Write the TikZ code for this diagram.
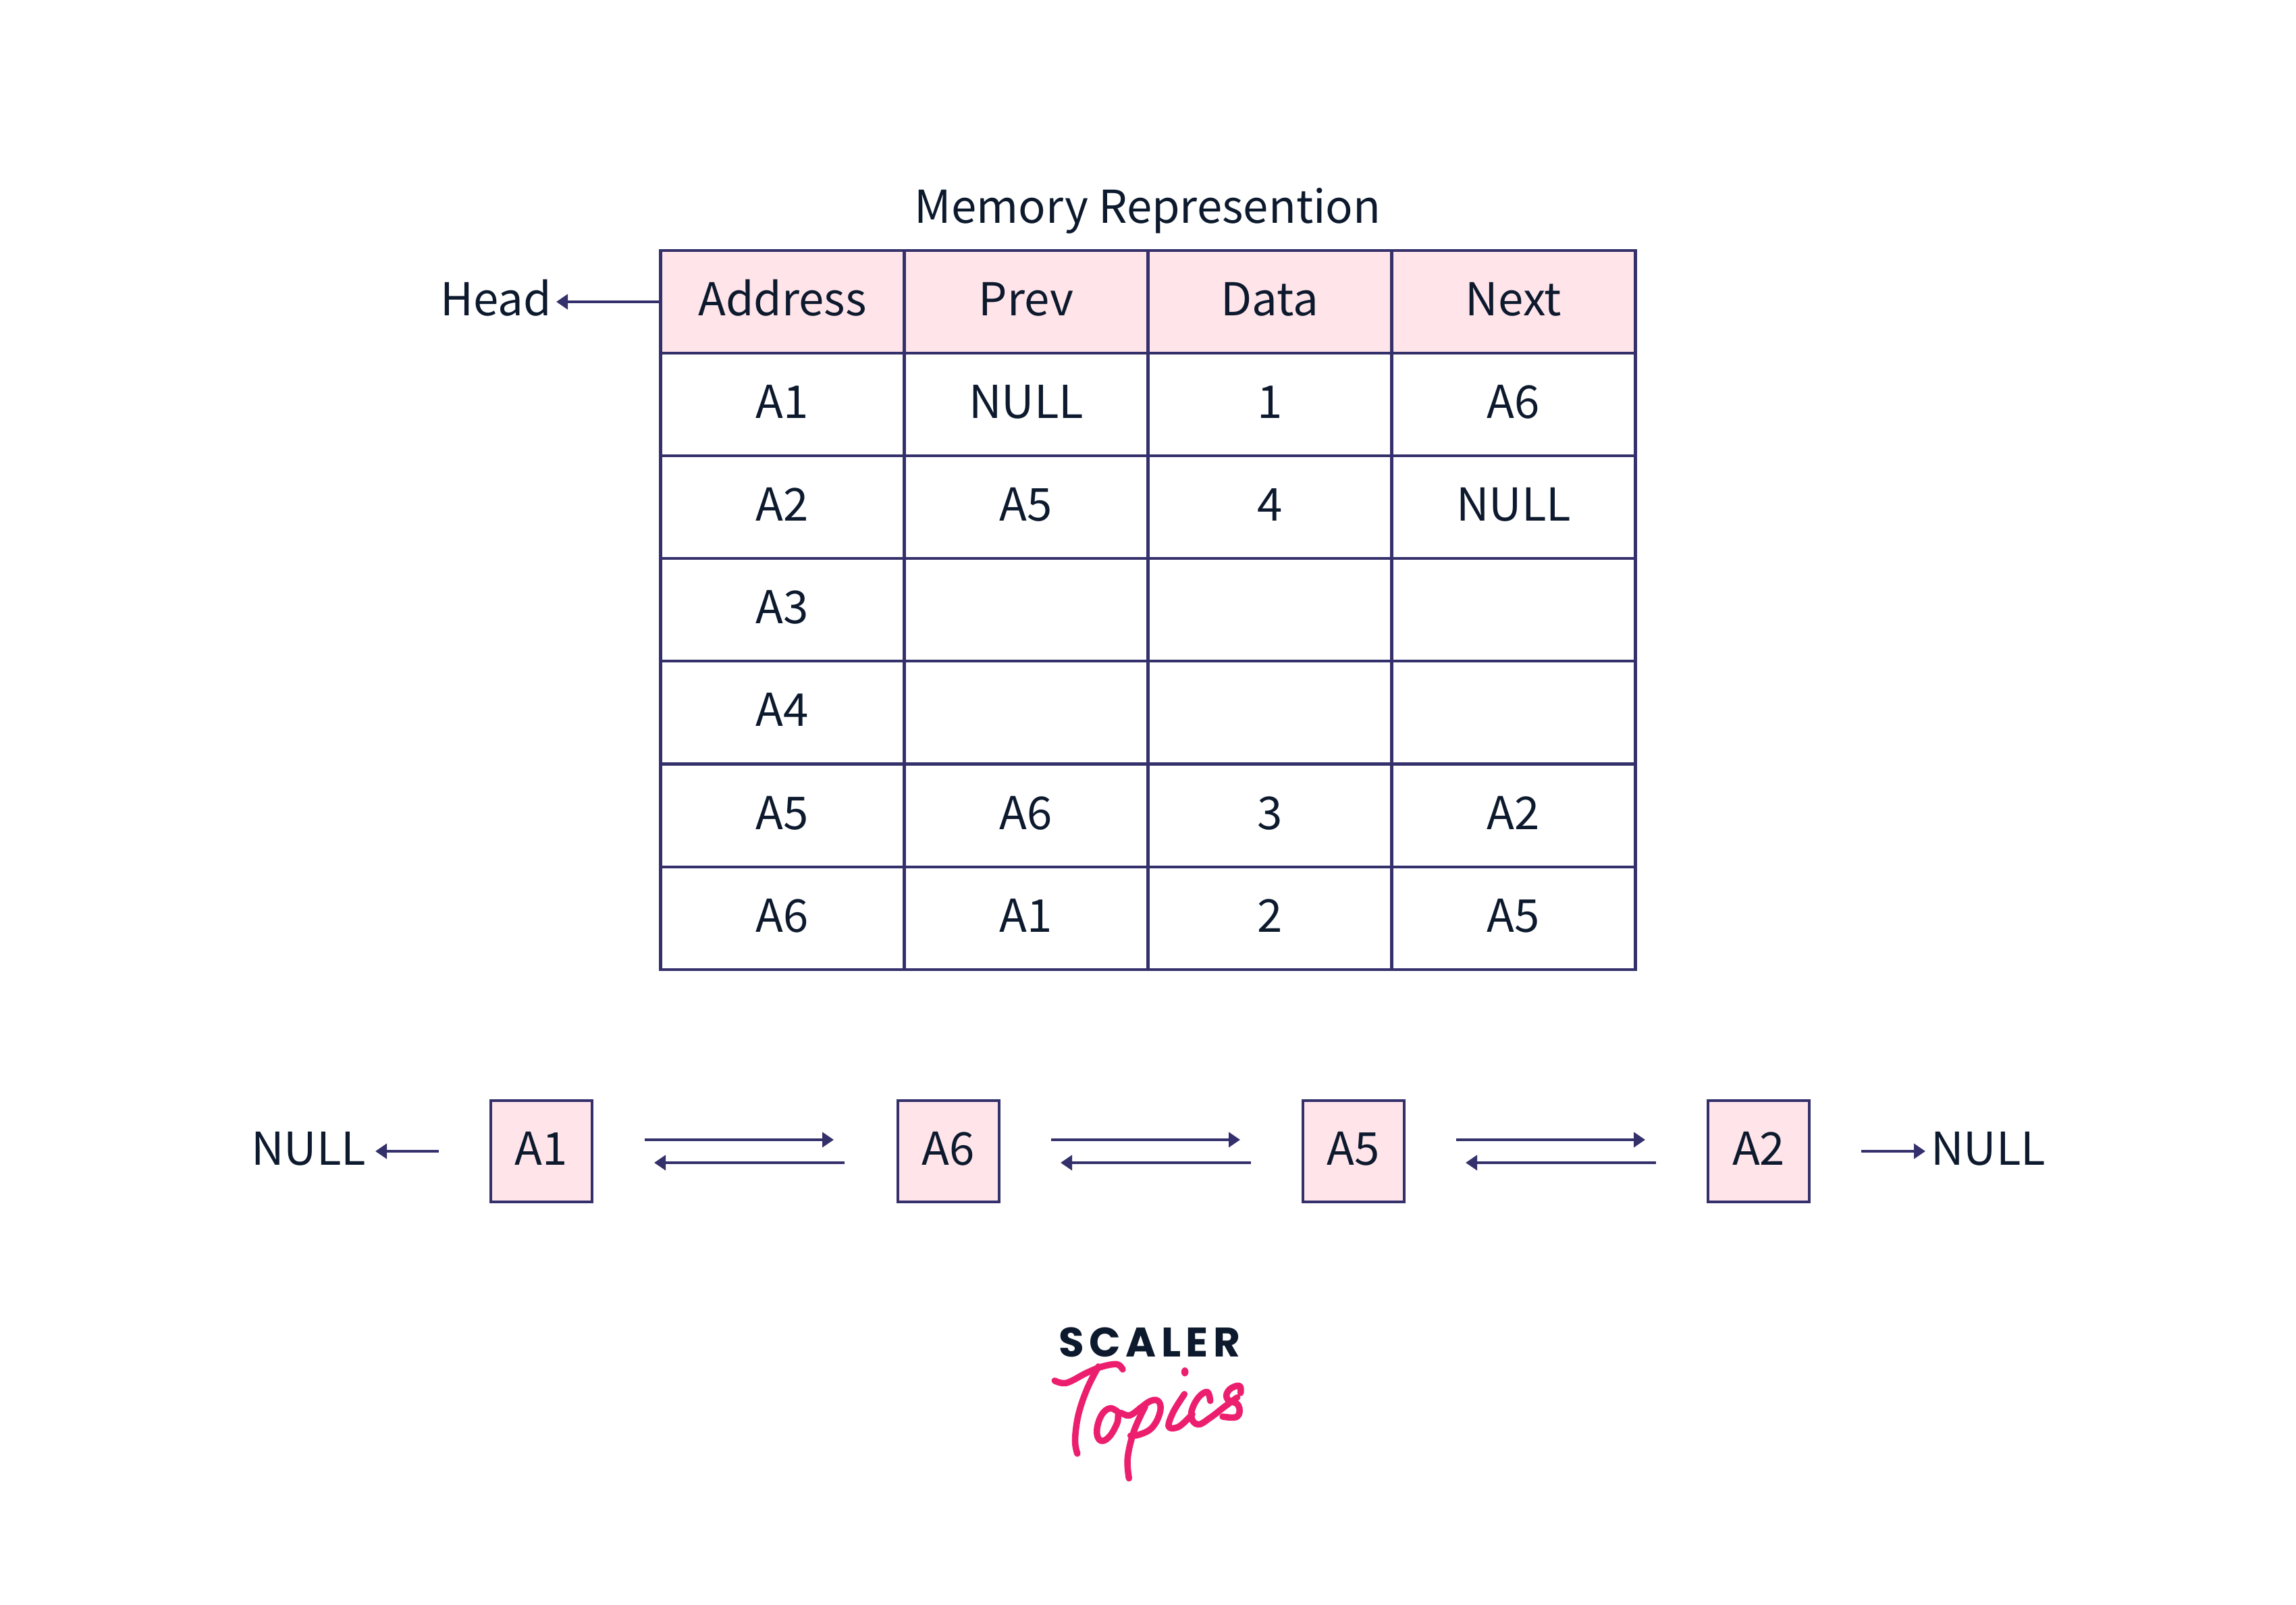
\documentclass[tikz,border=0pt]{standalone}
\usepackage{fontspec}
\usepackage{tikz}
\usetikzlibrary{arrows.meta}
\setmainfont{Noto Sans CJK JP}
\newfontfamily\logofont[LetterSpace=12]{Poppins Bold}
\definecolor{edgeblue}{HTML}{34306B}
\definecolor{cellpink}{HTML}{FFE4E9}
\definecolor{textnavy}{HTML}{0D1A2E}
\definecolor{logopink}{HTML}{EC1F6F}

\begin{document}
\begin{tikzpicture}[
    label/.style={text=textnavy, font=\fontsize{19.1}{24}\selectfont, inner sep=0pt, outer sep=0pt, text height=.5cm, text depth=.08cm},
    cell/.style={label, draw=edgeblue, line width=.045cm, minimum width=3.61cm, minimum height=1.52cm},
    hcell/.style={cell, fill=cellpink},
    listbox/.style={cell, fill=cellpink, minimum width=1.5cm, minimum height=1.5cm},
    link/.style={draw=edgeblue, line width=.04cm, -{Triangle[length=.17cm, width=.22cm]}},
    logoink/.style={draw=logopink, line width=.095cm, line cap=round, line join=round}]
  \useasboundingbox (0cm, 0cm) rectangle (34.01cm, 23.76cm);
  \node [label] (title) at (17cm, 20.66cm) {Memory Represention};
  \node [hcell] (addr) at (11.59cm, 19.29cm) {Address};
  \node [hcell] (prev) at (15.2cm, 19.29cm) {Prev};
  \node [hcell] (data) at (18.81cm, 19.29cm) {Data};
  \node [hcell] (next) at (22.42cm, 19.29cm) {Next};
  \node [cell] (a1) at (11.59cm, 17.77cm) {A1};
  \node [cell] (a1p) at (15.2cm, 17.77cm) {NULL};
  \node [cell] (a1d) at (18.81cm, 17.77cm) {1};
  \node [cell] (a1n) at (22.42cm, 17.77cm) {A6};
  \node [cell] (a2) at (11.59cm, 16.25cm) {A2};
  \node [cell] (a2p) at (15.2cm, 16.25cm) {A5};
  \node [cell] (a2d) at (18.81cm, 16.25cm) {4};
  \node [cell] (a2n) at (22.42cm, 16.25cm) {NULL};
  \node [cell] (a3) at (11.59cm, 14.73cm) {A3};
  \node [cell] (a3p) at (15.2cm, 14.73cm) {};
  \node [cell] (a3d) at (18.81cm, 14.73cm) {};
  \node [cell] (a3n) at (22.42cm, 14.73cm) {};
  \node [cell] (a4) at (11.59cm, 13.21cm) {A4};
  \node [cell] (a4p) at (15.2cm, 13.21cm) {};
  \node [cell] (a4d) at (18.81cm, 13.21cm) {};
  \node [cell] (a4n) at (22.42cm, 13.21cm) {};
  \node [cell] (a5) at (11.59cm, 11.68cm) {A5};
  \node [cell] (a5p) at (15.2cm, 11.68cm) {A6};
  \node [cell] (a5d) at (18.81cm, 11.68cm) {3};
  \node [cell] (a5n) at (22.42cm, 11.68cm) {A2};
  \node [cell] (a6) at (11.59cm, 10.16cm) {A6};
  \node [cell] (a6p) at (15.2cm, 10.16cm) {A1};
  \node [cell] (a6d) at (18.81cm, 10.16cm) {2};
  \node [cell] (a6n) at (22.42cm, 10.16cm) {A5};
  \node [label] (head) at (7.35cm, 19.29cm) {Head};
  \coordinate (headtip) at (8.24cm, 19.29cm);
  \draw [link] (addr.west) -- (headtip);
  \node [label] (nullleft) at (4.57cm, 6.71cm) {NULL};
  \node [label] (nullright) at (29.45cm, 6.71cm) {NULL};
  \node [listbox] (b1) at (8.02cm, 6.71cm) {A1};
  \node [listbox] (b6) at (14.05cm, 6.71cm) {A6};
  \node [listbox] (b5) at (20.05cm, 6.71cm) {A5};
  \node [listbox] (b2) at (26.05cm, 6.71cm) {A2};
  \coordinate (nl1) at (6.5cm, 6.71cm);
  \coordinate (nl2) at (5.56cm, 6.71cm);
  \coordinate (nr1) at (27.57cm, 6.71cm);
  \coordinate (nr2) at (28.52cm, 6.71cm);
  \draw [link] (nl1) -- (nl2);
  \draw [link] (nr1) -- (nr2);
  \coordinate (f1a) at (9.55cm, 6.88cm);
  \coordinate (f1b) at (12.35cm, 6.88cm);
  \coordinate (g1a) at (12.51cm, 6.54cm);
  \coordinate (g1b) at (9.69cm, 6.54cm);
  \coordinate (f2a) at (15.57cm, 6.88cm);
  \coordinate (f2b) at (18.37cm, 6.88cm);
  \coordinate (g2a) at (18.53cm, 6.54cm);
  \coordinate (g2b) at (15.71cm, 6.54cm);
  \coordinate (f3a) at (21.57cm, 6.88cm);
  \coordinate (f3b) at (24.37cm, 6.88cm);
  \coordinate (g3a) at (24.53cm, 6.54cm);
  \coordinate (g3b) at (21.71cm, 6.54cm);
  \draw [link] (f1a) -- (f1b);
  \draw [link] (g1a) -- (g1b);
  \draw [link] (f2a) -- (f2b);
  \draw [link] (g2a) -- (g2b);
  \draw [link] (f3a) -- (f3b);
  \draw [link] (g3a) -- (g3b);
  \node [text=textnavy, inner sep=0pt, font=\logofont\fontsize{17.4}{20}\selectfont] (scaler) at (17.03cm, 3.88cm) {SCALER};
  \begin{scope}[shift={(15cm, 4.46cm)}, x=.003333cm, y=-.003333cm]
    \draw [logoink] plot [smooth, tension=.6] coordinates {(187,345) (240,355) (330,310) (400,282) (465,272) (490,295)};
    \draw [logoink] plot [smooth, tension=.6] coordinates {(382,282) (330,385) (292,500) (278,610) (288,670)};
    \draw [logoink] plot [smooth, tension=.7] coordinates {(475,490) (435,468) (395,500) (375,570) (392,612) (430,595) (465,535) (475,490) (520,500) (570,465)};
    \draw [logoink] plot [smooth, tension=.6] coordinates {(590,460) (540,570) (512,690) (518,780)};
    \draw [logoink] plot [smooth, tension=.7] coordinates {(560,475) (615,435) (652,440) (655,490) (620,555) (565,585) (525,590)};
    \draw [logoink] plot [smooth, tension=.6] coordinates {(765,405) (715,485) (695,550) (740,550) (800,495)};
    \draw [logoink] plot [smooth, tension=.7] coordinates {(880,435) (865,395) (820,430) (795,500) (825,540) (880,510) (945,460) (1000,420)};
    \draw [logoink] plot [smooth, tension=.7] coordinates {(1015,400) (1010,368) (965,385) (955,425) (1005,455) (1000,505) (935,505)};
    \fill [logopink] (767,306) ellipse (16 and 20);
  \end{scope}
\end{tikzpicture}
\end{document}
